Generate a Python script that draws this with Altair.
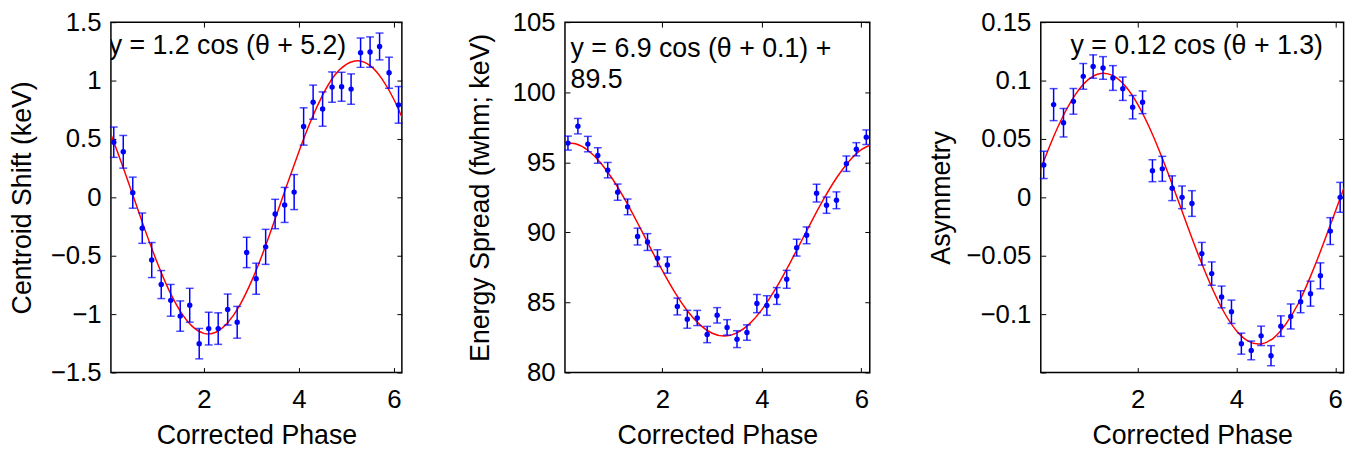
import altair as alt
import pandas as pd

# ---------------- data ----------------
phase = [0.1, 0.3, 0.5, 0.7, 0.9, 1.1, 1.3, 1.5, 1.7, 1.9, 2.1, 2.3, 2.5, 2.7, 2.9, 3.1,
         3.3, 3.5, 3.7, 3.9, 4.1, 4.3, 4.5, 4.7, 4.9, 5.1, 5.3, 5.5, 5.7, 5.9, 6.1]

centroid = [0.472, 0.39, 0.04, -0.264, -0.537, -0.747, -0.882, -1.017, -0.924, -1.253,
            -1.124, -1.124, -0.961, -1.07, -0.472, -0.697, -0.424, -0.143, -0.065, 0.045,
            0.607, 0.815, 0.756, 0.944, 0.947, 0.927, 1.239, 1.244, 1.292, 1.067, 0.792]
centroid_err = [0.13, 0.14, 0.133, 0.13, 0.15, 0.12, 0.136, 0.13, 0.145, 0.13, 0.14, 0.135,
                0.133, 0.136, 0.13, 0.133, 0.15, 0.126, 0.15, 0.15, 0.16, 0.146, 0.147, 0.13,
                0.124, 0.13, 0.126, 0.13, 0.115, 0.133, 0.157]

spread = [96.37, 97.58, 96.30, 95.49, 94.44, 92.87, 91.82, 89.70, 89.31, 88.16, 87.67,
          84.71, 83.80, 83.89, 82.71, 84.08, 83.22, 82.38, 82.85, 84.92, 84.78, 85.46,
          86.65, 88.91, 89.79, 92.80, 91.94, 92.29, 94.90, 95.93, 96.79]
spread_err = [0.5, 0.55, 0.55, 0.55, 0.55, 0.58, 0.56, 0.6, 0.6, 0.6, 0.58, 0.6, 0.64, 0.54,
              0.58, 0.55, 0.55, 0.6, 0.55, 0.65, 0.7, 0.6, 0.64, 0.6, 0.6, 0.63, 0.58, 0.6,
              0.55, 0.47, 0.52]

asym = [0.0278, 0.0794, 0.0639, 0.0822, 0.1036, 0.112, 0.1108, 0.1022, 0.093, 0.0772,
        0.0814, 0.0228, 0.0244, 0.0078, 0.0, -0.0053, -0.0483, -0.0653, -0.0853, -0.098,
        -0.1253, -0.1311, -0.1186, -0.1356, -0.1103, -0.102, -0.0894, -0.0825, -0.0672,
        -0.0289, 0.0]
asym_err = [0.0117, 0.0137, 0.0122, 0.011, 0.011, 0.01, 0.0097, 0.0106, 0.01, 0.01, 0.0097,
            0.0094, 0.0107, 0.0106, 0.0097, 0.011, 0.0097, 0.01, 0.0093, 0.01, 0.009, 0.008,
            0.0083, 0.0086, 0.0088, 0.0107, 0.0094, 0.0107, 0.0111, 0.0115, 0.0128]

# fitted curves
curve_phase = [0.0, 0.25, 0.5, 0.75, 1.0, 1.25, 1.5, 1.75, 2.0, 2.25, 2.5, 2.75, 3.0,
               3.25, 3.5, 3.75, 4.0, 4.25, 4.5, 4.75, 5.0, 5.25, 5.5, 5.75, 6.0, 6.25]
centroid_fit = [0.580, 0.309, 0.021, -0.270, -0.543, -0.784, -0.974, -1.103, -1.165, -1.155,
                -1.074, -0.928, -0.720, -0.469, -0.184, 0.107, 0.390, 0.653, 0.875, 1.043,
                1.139, 1.170, 1.128, 1.015, 0.840, 0.612]
spread_fit = [96.37, 96.32, 95.86, 94.99, 93.79, 92.32, 90.67, 88.95, 87.27, 85.72, 84.41,
              83.42, 82.80, 82.60, 82.83, 83.47, 84.49, 85.82, 87.38, 89.07, 90.79, 92.42,
              93.88, 95.06, 95.90, 96.34]
asym_fit = [0.0202, 0.0470, 0.0703, 0.0886, 0.1008, 0.1061, 0.1042, 0.0953, 0.0798, 0.0587,
            0.0334, 0.0054, -0.0235, -0.0516, -0.0770, -0.0984, -0.1142, -0.1234, -0.1255,
            -0.1205, -0.1086, -0.0911, -0.0677, -0.0409, -0.0123, 0.0163]

x_ticks = [2, 4, 6]
centroid_ticks = [-1.5, -1, -0.5, 0, 0.5, 1, 1.5]
spread_ticks = [80, 85, 90, 95, 100, 105]
asym_ticks = [-0.15, -0.1, -0.05, 0, 0.05, 0.1, 0.15]
asym_labels = [-0.1, -0.05, 0, 0.05, 0.1, 0.15]

titles = ["Centroid Shift (keV)", "Energy Spread (fwhm; keV)", "Asymmetry"]
equations = ["y = 1.2 cos (θ + 5.2)", "y = 6.9 cos (θ + 0.1) +\n89.5", "y = 0.12 cos (θ + 1.3)"]

FONT = "Liberation Sans"
BLUE = "#0000ff"
RED = "#ff0000"
X_DOMAIN = [0.04, 6.17]
HEIGHT = 354


def label_expr(fmt):
    return "replace(format(datum.value, '" + fmt + "'), '-', '\u2212')"


def panel(vals, errs, fit, ydom, yticks, ylabels, yfmt, ytitle, eq, eq_x, eq_y, width,
          tp_y, right_ext, clip_text):
    pts = pd.DataFrame({"x": phase, "y": vals, "e": errs})
    pts["lo"] = pts["y"] - pts["e"]
    pts["hi"] = pts["y"] + pts["e"]
    cur = pd.DataFrame({"x": curve_phase, "y": fit})
    ann = pd.DataFrame({"x": [eq_x], "y": [eq_y], "t": [eq]})

    xs = alt.Scale(domain=X_DOMAIN, nice=False, zero=False)
    ys = alt.Scale(domain=ydom, nice=False, zero=False)

    lab_x = alt.Axis(title="Corrected Phase", values=x_ticks, labelExpr=label_expr("d"),
                     ticks=False, tickSize=0, domain=False, grid=False, labelPadding=14,
                     labelFlush=False, labelOverlap=False, minExtent=0, maxExtent=0,
                     titlePadding=51)
    lab_y = alt.Axis(title=ytitle, values=ylabels, labelExpr=label_expr(yfmt), ticks=False,
                     tickSize=0, domain=False, grid=False, labelPadding=10,
                     labelFlush=False, labelOverlap=False, minExtent=0, maxExtent=0,
                     titlePadding=tp_y)

    def tick_axis(vals_, orient, ext=5):
        return alt.Axis(values=vals_, orient=orient, labels=False, domain=False, ticks=True,
                        tickSize=5, offset=-5, grid=False, title=None, minExtent=ext,
                        maxExtent=ext, tickColor="black", tickWidth=1)

    line = alt.Chart(cur).mark_line(color=RED, strokeWidth=1.5, interpolate="natural",
                                    clip=True).encode(
        x=alt.X("x:Q", scale=xs, axis=lab_x),
        y=alt.Y("y:Q", scale=ys, axis=lab_y),
    )
    rules = alt.Chart(pts).mark_rule(color=BLUE, strokeWidth=1.5).encode(
        x=alt.X("x:Q", scale=xs, axis=tick_axis(x_ticks, "bottom")),
        y=alt.Y("lo:Q", scale=ys, axis=tick_axis(yticks, "left")),
        y2="hi:Q",
    )
    cap_lo = alt.Chart(pts).mark_tick(color=BLUE, orient="horizontal", size=8,
                                      thickness=1.5).encode(
        x=alt.X("x:Q", scale=xs, axis=None),
        y=alt.Y("lo:Q", scale=ys, axis=None),
    )
    cap_hi = alt.Chart(pts).mark_tick(color=BLUE, orient="horizontal", size=8,
                                      thickness=1.5).encode(
        x=alt.X("x:Q", scale=xs, axis=None),
        y=alt.Y("hi:Q", scale=ys, axis=None),
    )
    dots = alt.Chart(pts).mark_circle(color=BLUE, size=30, opacity=1).encode(
        x=alt.X("x:Q", scale=xs, axis=tick_axis(x_ticks, "top")),
        y=alt.Y("y:Q", scale=ys, axis=tick_axis(yticks, "right", right_ext)),
    )
    text = alt.Chart(ann).mark_text(align="left", baseline="alphabetic", fontSize=27,
                                    font=FONT, color="black", clip=clip_text,
                                    lineBreak="\n", lineHeight=32).encode(
        x=alt.X("x:Q", scale=xs, axis=None),
        y=alt.Y("y:Q", scale=ys, axis=None),
        text="t:N",
    )
    return alt.layer(line, rules, cap_lo, cap_hi, dots, text).resolve_axis(
        x="independent", y="independent").properties(width=width, height=HEIGHT)


p1 = panel(centroid, centroid_err, centroid_fit, [-1.5, 1.5], centroid_ticks, centroid_ticks,
           ".2~g", titles[0], equations[0], -0.008, 1.227, 294, 75, 12.6, True)
p2 = panel(spread, spread_err, spread_fit, [80, 105], spread_ticks, spread_ticks,
           "d", titles[1], equations[1], 0.153, 102.55, 308, 71, 5, False)
p3 = panel(asym, asym_err, asym_fit, [-0.15, 0.15], asym_ticks, asym_labels,
           ".2~g", titles[2], equations[2], 0.641, 0.1225, 306, 86, 5, False)

chart = alt.hconcat(p1, p2, p3, spacing=55.8).properties(
    padding={"left": 0, "top": -2, "right": 0, "bottom": 0},
    background="white",
).configure_view(stroke="black", strokeWidth=1.5).configure_axis(
    labelFont=FONT, titleFont=FONT, labelFontSize=26, titleFontSize=27,
    labelColor="black", titleColor="black", titleFontWeight="normal",
)

chart.save("out.html", embed_options={"renderer": "svg", "actions": False})
